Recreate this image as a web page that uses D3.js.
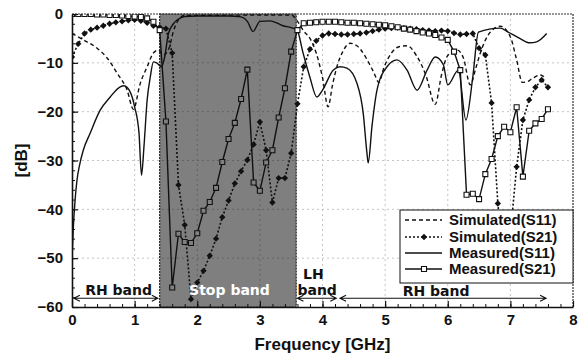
<!DOCTYPE html>
<html>
<head>
<meta charset="utf-8">
<script src="https://cdn.jsdelivr.net/npm/d3@7"></script>
<style>
  body { margin: 0; background: #fff; }
  svg { display: block; }
</style>
</head>
<body>
<div id="chart"></div>
<script>
// Chart size
const width = 582;
const height = 354;
const plot = {left: 72, right: 573, top: 14, bottom: 307};

// Frequency points (GHz) used by the marker series
const freqGrid = [
  0.0, 0.1, 0.2, 0.3, 0.4, 0.5, 0.6, 0.7, 0.8, 0.9,
  1.0, 1.1, 1.2, 1.3, 1.4, 1.5, 1.6, 1.7, 1.8, 1.9,
  2.0, 2.1, 2.2, 2.3, 2.4, 2.5, 2.6, 2.7, 2.8, 2.9,
  3.0, 3.1, 3.2, 3.3, 3.4, 3.5, 3.6, 3.7, 3.8, 3.9,
  4.0, 4.1, 4.2, 4.3, 4.4, 4.5, 4.6, 4.7, 4.8, 4.9,
  5.0, 5.1, 5.2, 5.3, 5.4, 5.5, 5.6, 5.7, 5.8, 5.9,
  6.0, 6.1, 6.2, 6.3, 6.4, 6.5, 6.6, 6.7, 6.8, 6.9,
  7.0, 7.1, 7.2, 7.3, 7.4, 7.5, 7.6
];

// Measured S21 (dB), squares
const measS21 = [
  0, 0, 0, 0, -0.1, -0.1, -0.2, -0.2, -0.3, -0.4,
  -0.5, -0.6, -0.9, -1.6, -3.3, -22, -56, -45, -46.7, -46.9,
  -44.9, -40.3, -38.5, -35.6, -30.3, -25.6, -22.3, -17.4, -11.4, -34.5,
  -36.2, -30.4, -27.9, -21.2, -15.2, -7.7, -3.3, -1.9, -1.8, -1.7,
  -1.6, -1.6, -1.6, -1.7, -1.8, -1.8, -1.9, -2.0, -2.1, -2.2,
  -2.3, -2.5, -2.7, -3.0, -3.2, -3.5, -3.8, -4.0, -4.3, -4.8,
  -5.3, -7.7, -11.5, -37, -36.8, -37.9, -32.8, -29.7, -25, -23.1,
  -24.2, -19.1, -33.3, -23.9, -22.4, -21.5, -19.5
];

// Simulated S21 (dB), diamonds
const simS21 = [
  -8.8, -6.1, -4.0, -3.2, -2.8, -2.4, -2.0, -1.7, -1.5, -1.3,
  -1.2, -1.4, -1.8, -2.4, -2.7, -3.0, -8.0, -35, -43.2, -58.4,
  -55, -52.6, -49.5, -46, -41.6, -38.2, -34.7, -32.2, -29.9, -26.7,
  -22.1, -27.9, -38.6, -33.6, -33.6, -28.5, -18.4, -10.8, -7.2, -5.5,
  -4.4, -4.0, -4.1, -4.2, -4.2, -4.1, -4.0, -3.8, -3.5, -3.2,
  -3.0, -2.9, -2.8, -2.9, -3.0, -3.1, -3.3, -3.4, -3.5, -3.4,
  -3.5, -3.9, -4.2, -4.1, -4.0, -7.0, -8.4, -18.2, -38.8, -52,
  -45, -31.3, -21.7, -17.6, -15.0, -13.5, -15.0
];

// Measured S11 (line only)
const measS11Freq = [
  0.0, 0.02, 0.05, 0.08, 0.12, 0.18, 0.29, 0.45, 0.61, 0.77,
  0.83, 0.93, 1.0, 1.07, 1.11, 1.15, 1.2, 1.25, 1.3, 1.35,
  1.43, 1.48, 1.54, 1.62, 1.72, 1.8, 2.0, 2.5, 2.7, 2.8,
  2.89, 3.0, 3.16, 3.37, 3.5, 3.59, 3.69, 3.8, 3.91, 4.0,
  4.17, 4.28, 4.39, 4.55, 4.65, 4.71, 4.73, 4.79, 4.87, 5.03,
  5.19, 5.35, 5.51, 5.67, 5.8, 5.93, 6.0, 6.17, 6.29, 6.4,
  6.49, 6.84, 6.95, 7.15, 7.31, 7.42, 7.58
];
const measS11 = [
  -50.4, -44, -38, -34, -31, -27.9, -24.4, -19.7, -17, -14.9,
  -14.7, -16, -19, -24.4, -33, -27, -17.6, -12.9, -9.8, -10,
  -10.8, -8.8, -4, -2, -0.9, -0.5, -0.4, -0.4, -0.6, -1.5,
  -3.6, -1.5, -1.4, -2.4, -2.8, -3.2, -8, -13, -17, -15.6,
  -11.5, -10.8, -11.1, -14.2, -20.3, -28.5, -30.5, -23, -15.6, -10.8,
  -9.4, -11.5, -15.6, -11.5, -8.8, -10.4, -14.5, -11.5, -21.7, -12.9,
  -3.7, -2.9, -3.6, -5, -5.9, -5.7, -4
];

// Simulated S11 (line only)
const simS11Freq = [
  0.0, 0.18, 0.4, 0.56, 0.72, 0.88, 0.98, 1.09, 1.2, 1.3,
  1.38, 1.46, 1.55, 1.62, 1.7, 1.8, 3.5, 3.6, 3.7, 3.8,
  3.9, 4.0, 4.09, 4.16, 4.23, 4.32, 4.44, 4.55, 4.71, 4.82,
  4.9, 4.98, 5.1, 5.22, 5.35, 5.5, 5.65, 5.8, 5.9, 6.0,
  6.15, 6.25, 6.36, 6.45, 6.52, 6.68, 6.84, 7.0, 7.1, 7.19,
  7.28, 7.35, 7.48, 7.55
];
const simS11 = [
  -4, -5.3, -7, -9, -12.1, -15.6, -19.5, -14.2, -10.8, -8,
  -7.4, -8.4, -7, -3.5, -1.2, -0.3, -0.2, -1.5, -3.5, -5,
  -8, -13, -19, -14.5, -10.8, -7.8, -6, -6.5, -9.3, -12,
  -14, -11, -8, -6.7, -6.5, -8.5, -12.5, -18.5, -12.5, -8.5,
  -7.4, -9, -14.5, -11, -8, -3.7, -2.5, -4.7, -9.4, -14,
  -13.8, -13.2, -12.5, -13
];

// Stop band edges (GHz)
const stopBand = [1.4, 3.58];

// Ticks
const xTicks = [0, 1, 2, 3, 4, 5, 6, 7, 8];
const yTicks = [0, -10, -20, -30, -40, -50, -60];

const legendLabels = ["Simulated(S11)", "Simulated(S21)", "Measured(S11)", "Measured(S21)"];

const ink = "#111";
const tickFont = "'Liberation Sans', Arial, sans-serif";
const noteFont = "'DejaVu Sans', Verdana, sans-serif";

const svg = d3.select("#chart")
  .append("svg")
  .attr("width", width)
  .attr("height", height)
  .attr("viewBox", [0, 0, width, height]);

svg.append("rect").attr("width", width).attr("height", height).attr("fill", "#fff");

const xScale = d3.scaleLinear().domain([0, 8]).range([plot.left, plot.right]);
const yScale = d3.scaleLinear().domain([-60, 0]).range([plot.bottom, plot.top]);

svg.append("defs").append("clipPath").attr("id", "clip")
  .append("rect")
  .attr("x", plot.left).attr("y", plot.top)
  .attr("width", plot.right - plot.left).attr("height", plot.bottom - plot.top);

// grid lines
const grid = svg.append("g");
grid.selectAll(".gx")
  .data(xTicks.slice(1, -1))
  .enter().append("line")
  .attr("x1", d => xScale(d)).attr("x2", d => xScale(d))
  .attr("y1", plot.top).attr("y2", plot.bottom)
  .attr("stroke", "#c4c4c4").attr("stroke-dasharray", "2,3");
grid.selectAll(".gy")
  .data(yTicks.slice(1, -1))
  .enter().append("line")
  .attr("x1", plot.left).attr("x2", plot.right)
  .attr("y1", d => yScale(d)).attr("y2", d => yScale(d))
  .attr("stroke", "#c4c4c4").attr("stroke-dasharray", "2,3");

// stop band shading
svg.append("rect")
  .attr("x", xScale(stopBand[0]))
  .attr("y", plot.top)
  .attr("width", xScale(stopBand[1]) - xScale(stopBand[0]))
  .attr("height", plot.bottom - plot.top)
  .attr("fill", "#000").attr("fill-opacity", 0.5)
  .attr("stroke", "#222").attr("stroke-width", 1.2).attr("stroke-dasharray", "2,1");

// curves
const curves = svg.append("g").attr("clip-path", "url(#clip)");

const zipPts = (fs, vs) => fs.map((f, i) => ({f: f, v: vs[i]}));
const line = d3.line().x(d => xScale(d.f)).y(d => yScale(d.v));
const smooth = d3.line().x(d => xScale(d.f)).y(d => yScale(d.v)).curve(d3.curveMonotoneX);

const simS11Pts = zipPts(simS11Freq, simS11);
const measS11Pts = zipPts(measS11Freq, measS11);
const simS21Pts = zipPts(freqGrid, simS21);
const measS21Pts = zipPts(freqGrid, measS21);

curves.append("path").datum(simS11Pts)
  .attr("d", smooth).attr("fill", "none")
  .attr("stroke", ink).attr("stroke-width", 1.4).attr("stroke-dasharray", "4,3");

curves.append("path").datum(measS11Pts)
  .attr("d", smooth).attr("fill", "none")
  .attr("stroke", ink).attr("stroke-width", 1.4);

curves.append("path").datum(simS21Pts)
  .attr("d", line).attr("fill", "none")
  .attr("stroke", ink).attr("stroke-width", 1.6).attr("stroke-dasharray", "2,2");

curves.selectAll(".dia")
  .data(simS21Pts)
  .enter().append("path")
  .attr("d", d3.symbol(d3.symbolSquare, 20))
  .attr("transform", d => `translate(${xScale(d.f)},${yScale(d.v)}) rotate(45)`)
  .attr("fill", ink);

curves.append("path").datum(measS21Pts)
  .attr("d", line).attr("fill", "none")
  .attr("stroke", ink).attr("stroke-width", 1.4);

const inStop = f => f > stopBand[0] + 0.02 && f < stopBand[1];
curves.selectAll(".sq")
  .data(measS21Pts)
  .enter().append("path")
  .attr("d", d3.symbol(d3.symbolSquare, 25))
  .attr("transform", d => `translate(${xScale(d.f)},${yScale(d.v)})`)
  .attr("fill", d => inStop(d.f) ? "#808080" : "#fff")
  .attr("stroke", ink).attr("stroke-width", 1.1);

// frame: dotted top and right
svg.append("path")
  .attr("d", `M${plot.left},${plot.top}H${plot.right}V${plot.bottom}`)
  .attr("fill", "none").attr("stroke", "#333").attr("stroke-width", 1.2)
  .attr("stroke-dasharray", "2,1");

// minor ticks
svg.append("g")
  .attr("transform", `translate(${plot.left},0)`)
  .call(d3.axisLeft(yScale).tickValues(d3.range(-60, 1, 2)).tickSize(-3).tickFormat(""))
  .call(g => g.select(".domain").remove())
  .selectAll("line").attr("stroke", ink);
svg.append("g")
  .attr("transform", `translate(0,${plot.bottom})`)
  .call(d3.axisBottom(xScale).tickValues(d3.range(0, 8.01, 0.2)).tickSize(-3).tickFormat(""))
  .call(g => g.select(".domain").remove())
  .selectAll("line").attr("stroke", ink);

// y axis
svg.append("g")
  .attr("transform", `translate(${plot.left},0)`)
  .call(d3.axisLeft(yScale).tickValues(yTicks).tickSize(-6).tickPadding(9).tickSizeOuter(0))
  .call(g => g.select(".domain").attr("stroke", ink).attr("stroke-width", 1.6))
  .call(g => g.selectAll("line").attr("stroke", ink).attr("stroke-width", 1.2))
  .call(g => g.selectAll("text")
    .attr("fill", ink).attr("font-family", tickFont)
    .attr("font-weight", "bold").attr("font-size", "15px"));

// x axis
svg.append("g")
  .attr("transform", `translate(0,${plot.bottom})`)
  .call(d3.axisBottom(xScale).tickValues(xTicks).tickSize(-6).tickPadding(7).tickSizeOuter(0))
  .call(g => g.select(".domain").attr("stroke", ink).attr("stroke-width", 1.6))
  .call(g => g.selectAll("line").attr("stroke", ink).attr("stroke-width", 1.2))
  .call(g => g.selectAll("text")
    .attr("fill", ink).attr("font-family", tickFont)
    .attr("font-weight", "bold").attr("font-size", "15px"));

// axis titles
svg.append("text")
  .attr("x", xScale(4)).attr("y", 350)
  .attr("text-anchor", "middle")
  .attr("font-family", tickFont).attr("font-weight", "bold").attr("font-size", "17px")
  .attr("fill", ink)
  .text("Frequency [GHz]");

svg.append("text")
  .attr("transform", `translate(27,${yScale(-30)}) rotate(-90)`)
  .attr("text-anchor", "middle")
  .attr("font-family", tickFont).attr("font-weight", "bold").attr("font-size", "17px")
  .attr("fill", ink)
  .text("[dB]");

// band annotations
const arrowY = yScale(-58.2);
function arrow(f1, f2) {
  const x1 = xScale(f1), x2 = xScale(f2);
  svg.append("path")
    .attr("d", `M${x1},${arrowY}H${x2}M${x1 + 6},${arrowY - 3}L${x1},${arrowY}L${x1 + 6},${arrowY + 3}` +
               `M${x2 - 6},${arrowY - 3}L${x2},${arrowY}L${x2 - 6},${arrowY + 3}`)
    .attr("fill", "none").attr("stroke", ink).attr("stroke-width", 1.1);
}
arrow(0.03, 1.37);
arrow(3.6, 4.22);
arrow(4.28, 7.57);

const note = (x, y, t, col) => svg.append("text")
  .attr("x", x).attr("y", y)
  .attr("font-family", noteFont).attr("font-weight", "bold").attr("font-size", "14px")
  .attr("fill", col || ink)
  .text(t);
note(xScale(0.21), 295, "RH band");
note(xScale(1.87), 295, "Stop band", "#fff");
note(xScale(3.69), 279, "LH");
note(xScale(3.6), 295, "band");
note(xScale(5.28), 296, "RH band");

// legend
const legend = svg.append("g");
legend.append("rect")
  .attr("x", 400).attr("y", 210).attr("width", 173).attr("height", 73)
  .attr("fill", "#fff").attr("stroke", ink).attr("stroke-width", 1);

const rowY = [220, 237, 253, 269];
const styles = [
  {dash: "4,3", mark: null},
  {dash: "2,2", mark: "dia"},
  {dash: null, mark: null},
  {dash: null, mark: "sq"}
];
legendLabels.forEach((lab, i) => {
  const y = rowY[i];
  legend.append("line")
    .attr("x1", 405).attr("x2", 442).attr("y1", y).attr("y2", y)
    .attr("stroke", ink).attr("stroke-width", 1.4)
    .attr("stroke-dasharray", styles[i].dash);
  if (styles[i].mark === "dia") {
    legend.append("path")
      .attr("d", d3.symbol(d3.symbolSquare, 20))
      .attr("transform", `translate(424,${y}) rotate(45)`)
      .attr("fill", ink);
  }
  if (styles[i].mark === "sq") {
    legend.append("path")
      .attr("d", d3.symbol(d3.symbolSquare, 25))
      .attr("transform", `translate(424,${y})`)
      .attr("fill", "#fff").attr("stroke", ink).attr("stroke-width", 1.1);
  }
  legend.append("text")
    .attr("x", 449).attr("y", y + 5)
    .attr("font-family", tickFont).attr("font-weight", "bold").attr("font-size", "15px")
    .attr("fill", ink)
    .text(lab);
});
</script>
</body>
</html>
